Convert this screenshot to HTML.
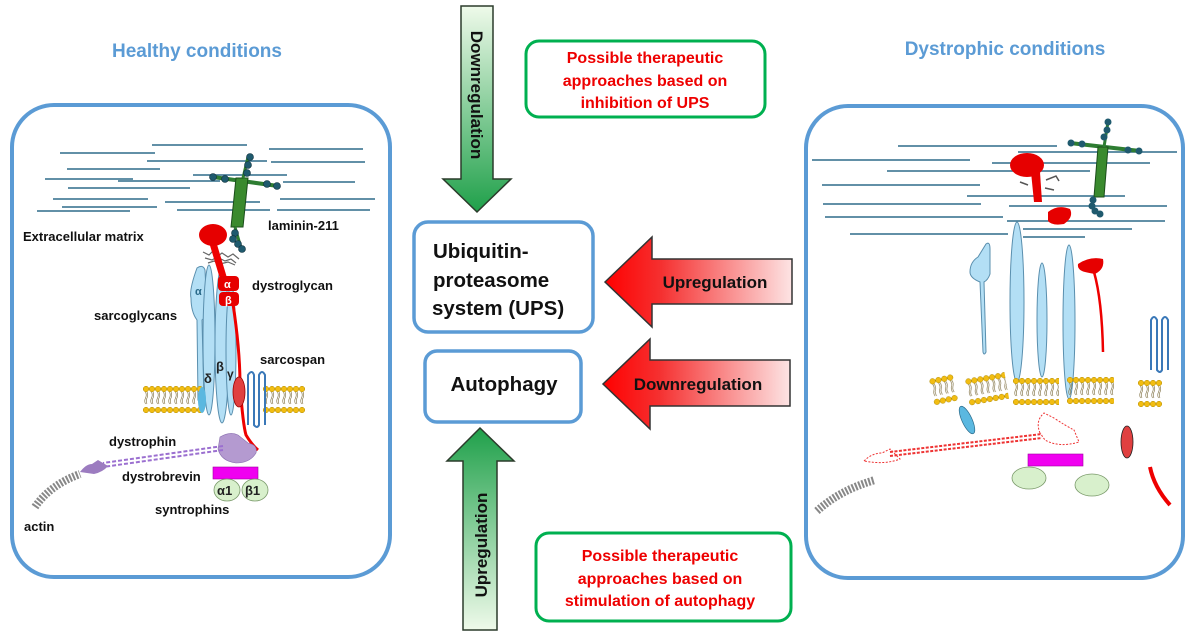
<!DOCTYPE html>
<html><head><meta charset="utf-8"><style>
html,body{margin:0;padding:0;background:#fff;}
svg{display:block;}
text{font-family:"Liberation Sans",Arial,sans-serif;font-weight:bold;}
</style></head><body>
<svg width="1198" height="639" viewBox="0 0 1198 639" xmlns="http://www.w3.org/2000/svg">
<defs>
<linearGradient id="gDown" x1="0" y1="0" x2="0" y2="1"><stop offset="0" stop-color="#effaea"/><stop offset="1" stop-color="#1fa04a"/></linearGradient>
<linearGradient id="gUp" x1="0" y1="1" x2="0" y2="0"><stop offset="0" stop-color="#effaea"/><stop offset="1" stop-color="#1fa04a"/></linearGradient>
<linearGradient id="rL" x1="0" y1="0" x2="1" y2="0"><stop offset="0" stop-color="#ff0000"/><stop offset="0.3" stop-color="#f53030"/><stop offset="1" stop-color="#fde4e4"/></linearGradient>
<pattern id="lip" width="6" height="27" patternUnits="userSpaceOnUse">
<circle cx="3" cy="3" r="2.8" fill="#f2bd12" stroke="#b08a00" stroke-width="0.5"/>
<circle cx="3" cy="24" r="2.8" fill="#f2bd12" stroke="#b08a00" stroke-width="0.5"/>
<path d="M2.5 6 q1.5 3 0 6 q-1.5 3 0 6 M4 6 q1.5 3 0 6 q-1.5 3 0 6" stroke="#7a6a3a" stroke-width="0.6" fill="none"/>
</pattern>
</defs>

<text x="197" y="57" font-size="19" fill="#5b9bd5" text-anchor="middle">Healthy conditions</text>
<text x="1005" y="55" font-size="19" fill="#5b9bd5" text-anchor="middle">Dystrophic conditions</text>

<rect x="12" y="105" width="378" height="472" rx="42" fill="#fff" stroke="#5b9bd5" stroke-width="4"/>
<rect x="806" y="106" width="377" height="472" rx="42" fill="#fff" stroke="#5b9bd5" stroke-width="4"/>

<g stroke="#2f6b8a" stroke-width="1.4">
<line x1="152" y1="145" x2="247" y2="145"/><line x1="60" y1="153" x2="155" y2="153"/><line x1="269" y1="149" x2="363" y2="149"/>
<line x1="147" y1="161" x2="267" y2="161"/><line x1="271" y1="162" x2="365" y2="162"/><line x1="67" y1="169" x2="160" y2="169"/>
<line x1="193" y1="175" x2="287" y2="175"/><line x1="45" y1="179" x2="133" y2="179"/><line x1="118" y1="181" x2="220" y2="181"/>
<line x1="283" y1="182" x2="355" y2="182"/><line x1="68" y1="188" x2="190" y2="188"/><line x1="53" y1="199" x2="148" y2="199"/>
<line x1="165" y1="202" x2="260" y2="202"/><line x1="280" y1="199" x2="375" y2="199"/><line x1="62" y1="207" x2="157" y2="207"/>
<line x1="37" y1="211" x2="130" y2="211"/><line x1="177" y1="210" x2="270" y2="210"/><line x1="277" y1="210" x2="370" y2="210"/>
</g>
<g>
<line x1="213" y1="177" x2="278" y2="186" stroke="#2e7d32" stroke-width="4"/>
<polygon points="236,178 248,178 243,227 231,227" fill="#3a8a2e" stroke="#1b4d1b" stroke-width="1"/>
<line x1="248" y1="157" x2="243" y2="178" stroke="#2e7d32" stroke-width="3"/>
<line x1="235" y1="227" x2="241" y2="248" stroke="#2e7d32" stroke-width="3"/>
<g fill="#1f5a6e" stroke="#0e2e3a" stroke-width="0.6">
<circle cx="250" cy="157" r="3.5"/><circle cx="248" cy="165" r="3.5"/><circle cx="247" cy="173" r="3.5"/>
<circle cx="213" cy="177" r="3.5"/><circle cx="225" cy="179" r="3.5"/><circle cx="267" cy="184" r="3.5"/><circle cx="277" cy="186" r="3.5"/>
<circle cx="235" cy="233" r="3.5"/><circle cx="233" cy="239" r="3.5"/><circle cx="238" cy="244" r="3.5"/><circle cx="242" cy="249" r="3.5"/>
</g></g>
<g stroke="#666" stroke-width="1.2" fill="none">
<path d="M203 252 l6 3 l4 -4 l5 5 l4 -3 l6 4 l5 -3 l6 5 M205 258 l7 2 l5 -3 l8 4 l6 -2 l5 4 M208 263 l6 -2 l6 3 l8 -2 l7 3"/>
</g>
<g fill="#b3dff5" stroke="#5a8fae" stroke-width="1">
<path d="M197 268 q6 -4 8 2 l2 40 q-2 8 -5 10 l2 80 q-3 6 -6 0 l-1 -80 q-6 -8 -6 -22 q-2 -8 6 -30z"/>
<ellipse cx="209" cy="340" rx="6" ry="75"/>
<ellipse cx="222" cy="345" rx="7" ry="78"/>
<ellipse cx="231" cy="350" rx="5" ry="65"/>
</g>
<text x="195" y="295" font-size="11" fill="#2a6a8a" font-family="Liberation Serif" font-weight="normal">α</text>
<text x="204" y="383" font-size="13" fill="#222" font-family="Liberation Serif" font-weight="normal">δ</text>
<text x="216" y="371" font-size="13" fill="#222" font-family="Liberation Serif" font-weight="normal">β</text>
<text x="227" y="378" font-size="12" fill="#222" font-family="Liberation Serif" font-weight="normal">γ</text>
<g transform="translate(143,386)"><rect width="60" height="27" fill="url(#lip)"/></g>
<g transform="translate(263,386)"><rect width="42" height="27" fill="url(#lip)"/></g>
<ellipse cx="202" cy="400" rx="4" ry="13" fill="#5bb8e0"/>
<path d="M248 425 v-50 q4 -6 6 0 v50 q3 4 5 0 v-50 q3 -6 6 0 v50" stroke="#3a78b8" stroke-width="2" fill="none"/>
<path d="M212 240 L224 280" stroke="#e00" stroke-width="7"/>
<ellipse cx="213" cy="235" rx="14" ry="11" fill="#e60000"/>
<rect x="218" y="276" width="21" height="15" rx="4" fill="#e60000"/>
<rect x="219" y="292" width="20" height="14" rx="4" fill="#e60000"/>
<text x="224" y="288" font-size="11" fill="#fff" font-family="Liberation Serif" font-weight="normal">α</text>
<text x="225" y="304" font-size="11" fill="#fff" font-family="Liberation Serif" font-weight="normal">β</text>
<path d="M233 304 Q240 350 240 385 Q243 425 246 435 Q252 445 258 450" stroke="#e00" stroke-width="3" fill="none"/>
<ellipse cx="239" cy="392" rx="6" ry="15" fill="#e04040" stroke="#900" stroke-width="0.8"/>
<path d="M220 437 q10 -6 18 -2 l10 8 q10 2 8 10 q-6 10 -20 10 q-15 -2 -18 -14z" fill="#b49ad0" stroke="#8a6fb0" stroke-width="0.6"/>
<line x1="223" y1="446" x2="103" y2="463" stroke="#9b6fd0" stroke-width="2" stroke-dasharray="4,2"/>
<line x1="223" y1="450" x2="103" y2="467" stroke="#9b6fd0" stroke-width="2" stroke-dasharray="4,2"/>
<path d="M80 472 q6 -8 12 -8 l6 -4 l10 6 q-5 6 -14 8 z" fill="#9c7cc0"/>
<path d="M35 507 Q50 485 80 474" stroke="#888" stroke-width="8" stroke-dasharray="2,1.5" fill="none"/>
<rect x="213" y="467" width="45" height="12" fill="#f000f0" stroke="#a000a0" stroke-width="0.6"/>
<ellipse cx="227" cy="490" rx="13" ry="11" fill="#d8f0cc" stroke="#7a9a6a" stroke-width="0.8"/>
<ellipse cx="255" cy="490" rx="13" ry="11" fill="#d8f0cc" stroke="#7a9a6a" stroke-width="0.8"/>
<text x="217" y="495" font-size="13" fill="#222" font-family="Liberation Serif" font-weight="normal">α1</text>
<text x="245" y="495" font-size="13" fill="#222" font-family="Liberation Serif" font-weight="normal">β1</text>
<g font-size="13" fill="#111">
<text x="23" y="241">Extracellular  matrix</text>
<text x="268" y="230">laminin-211</text>
<text x="252" y="290">dystroglycan</text>
<text x="94" y="320">sarcoglycans</text>
<text x="260" y="364">sarcospan</text>
<text x="109" y="446">dystrophin</text>
<text x="122" y="481">dystrobrevin</text>
<text x="155" y="514">syntrophins</text>
<text x="24" y="531">actin</text>
</g>

<g stroke="#2f6b8a" stroke-width="1.4">
<line x1="898" y1="146" x2="1057" y2="146"/><line x1="1018" y1="152" x2="1177" y2="152"/><line x1="812" y1="160" x2="970" y2="160"/>
<line x1="992" y1="163" x2="1150" y2="163"/><line x1="887" y1="171" x2="1090" y2="171"/><line x1="822" y1="185" x2="980" y2="185"/>
<line x1="967" y1="196" x2="1125" y2="196"/><line x1="823" y1="204" x2="981" y2="204"/><line x1="1009" y1="206" x2="1167" y2="206"/>
<line x1="825" y1="217" x2="1003" y2="217"/><line x1="1007" y1="221" x2="1165" y2="221"/><line x1="1023" y1="229" x2="1132" y2="229"/>
<line x1="850" y1="234" x2="1008" y2="234"/><line x1="1023" y1="237" x2="1085" y2="237"/>
</g>
<line x1="1070" y1="143" x2="1140" y2="151" stroke="#2e7d32" stroke-width="4"/>
<polygon points="1098,147 1108,147 1104,197 1094,197" fill="#3a8a2e" stroke="#1b4d1b"/>
<line x1="1108" y1="122" x2="1104" y2="147" stroke="#2e7d32" stroke-width="3"/>
<g fill="#1f5a6e"><circle cx="1108" cy="122" r="3.5"/><circle cx="1107" cy="130" r="3.5"/><circle cx="1104" cy="137" r="3.5"/>
<circle cx="1071" cy="143" r="3.5"/><circle cx="1082" cy="144" r="3.5"/><circle cx="1128" cy="150" r="3.5"/><circle cx="1139" cy="151" r="3.5"/>
<circle cx="1093" cy="200" r="3.5"/><circle cx="1092" cy="206" r="3.5"/><circle cx="1095" cy="211" r="3.5"/><circle cx="1100" cy="214" r="3.5"/></g>
<path d="M1031 172 L1034 202 L1042 202 L1040 172z" fill="#e60000"/>
<ellipse cx="1027" cy="165" rx="17" ry="12" fill="#e60000"/>
<path d="M1020 182 l8 3 M1046 180 l10 -4 l3 5 M1045 188 l9 2" stroke="#555" stroke-width="1.5" fill="none"/>
<path d="M1048 212 q10 -8 22 -3 q4 8 -6 15 q-12 2 -16 -3z" fill="#e60000"/>
<g fill="#b3dff5" stroke="#5a8fae" stroke-width="1">
<path d="M986 244 q4 -3 4 5 v25 q-2 6 -6 8 l2 70 q-2 4 -3 0 l-3 -70 q-10 -4 -10 -10 q0 -10 8 -15z"/>
<ellipse cx="1017" cy="302" rx="7" ry="80"/>
<ellipse cx="1042" cy="320" rx="5" ry="57"/>
<ellipse cx="1069" cy="322" rx="6" ry="77"/>
</g>
<path d="M1078 264 q12 -8 25 -5 q2 10 -8 15 q-6 -1 -10 -2 q-8 -2 -7 -8z" fill="#e60000"/>
<path d="M1094 272 Q1102 300 1103 352" stroke="#e00" stroke-width="2.5" fill="none"/>
<path d="M1151 370 v-50 q3 -6 6 0 v50 q3 4 5 0 v-50 q3 -6 6 0 v50" stroke="#3a78b8" stroke-width="2" fill="none"/>
<g transform="translate(929,379) rotate(-12)"><rect width="24" height="27" fill="url(#lip)"/></g>
<g transform="translate(965,379) rotate(-10)"><rect width="40" height="27" fill="url(#lip)"/></g>
<g transform="translate(1013,378)"><rect width="46" height="27" fill="url(#lip)"/></g>
<g transform="translate(1067,377)"><rect width="47" height="27" fill="url(#lip)"/></g>
<g transform="translate(1138,380)"><rect width="24" height="27" fill="url(#lip)"/></g>
<ellipse cx="967" cy="420" rx="5" ry="15" fill="#5bb8e0" stroke="#2a6a8a" stroke-width="0.7" transform="rotate(-25 967 420)"/>
<line x1="890" y1="452" x2="1042" y2="434" stroke="#e33" stroke-width="2" stroke-dasharray="3,1.5"/>
<line x1="890" y1="456" x2="1042" y2="438" stroke="#e33" stroke-width="2" stroke-dasharray="3,1.5"/>
<path d="M1040 433 q-5 -12 4 -20 l10 5 q12 8 20 12 l5 12 q-20 6 -34 -2z" fill="none" stroke="#e33" stroke-dasharray="2,1.5"/>
<path d="M864 461 q8 -8 18 -8 l8 -4 l10 10 q-15 6 -36 2z" fill="none" stroke="#e33" stroke-dasharray="2,1.5"/>
<ellipse cx="1127" cy="442" rx="6" ry="16" fill="#e04040" stroke="#222" stroke-width="0.8"/>
<path d="M1150 467 q4 20 20 38" stroke="#e00" stroke-width="4" fill="none"/>
<rect x="1028" y="454" width="55" height="12" fill="#f000f0" stroke="#a000a0" stroke-width="0.6"/>
<ellipse cx="1029" cy="478" rx="17" ry="11" fill="#d8f0cc" stroke="#7a9a6a" stroke-width="0.8"/>
<ellipse cx="1092" cy="485" rx="17" ry="11" fill="#d8f0cc" stroke="#7a9a6a" stroke-width="0.8"/>
<path d="M817 511 Q840 490 875 480" stroke="#888" stroke-width="8" stroke-dasharray="2,1.5" fill="none"/>

<polygon points="461,6 493,6 493,179 511,179 477,212 443,179 461,179" fill="url(#gDown)" stroke="#2b3b2b" stroke-width="1.5"/>
<text transform="translate(471,95) rotate(90)" font-size="17" fill="#111" text-anchor="middle">Downregulation</text>
<polygon points="480,428 514,461 497,461 497,630 463,630 463,461 447,461" fill="url(#gUp)" stroke="#2b3b2b" stroke-width="1.5"/>
<text transform="translate(487,545) rotate(-90)" font-size="17" fill="#111" text-anchor="middle">Upregulation</text>

<polygon points="605,282 652,237 652,259 792,259 792,304 652,304 652,327" fill="url(#rL)" stroke="#333" stroke-width="1.5"/>
<text x="715" y="288" font-size="17" fill="#111" text-anchor="middle">Upregulation</text>
<polygon points="603,384 650,339 650,360 790,360 790,406 650,406 650,429" fill="url(#rL)" stroke="#333" stroke-width="1.5"/>
<text x="698" y="390" font-size="17" fill="#111" text-anchor="middle">Downregulation</text>

<rect x="414" y="222" width="179" height="110" rx="14" fill="#fff" stroke="#5b9bd5" stroke-width="3.5"/>
<g font-size="20.5" fill="#111"><text x="433" y="258">Ubiquitin-</text><text x="433" y="287">proteasome</text><text x="432" y="315">system (UPS)</text></g>
<rect x="425" y="351" width="156" height="71" rx="12" fill="#fff" stroke="#5b9bd5" stroke-width="3.5"/>
<text x="504" y="391" font-size="20.5" fill="#111" text-anchor="middle">Autophagy</text>

<rect x="526" y="41" width="239" height="76" rx="13" fill="#fff" stroke="#00b050" stroke-width="3"/>
<g font-size="16" fill="#e00" text-anchor="middle"><text x="645" y="63">Possible therapeutic</text><text x="645" y="86">approaches based on</text><text x="645" y="108">inhibition of UPS</text></g>
<rect x="536" y="533" width="255" height="88" rx="13" fill="#fff" stroke="#00b050" stroke-width="3"/>
<g font-size="16" fill="#e00" text-anchor="middle"><text x="660" y="561">Possible therapeutic</text><text x="660" y="584">approaches based on</text><text x="660" y="606">stimulation of autophagy</text></g>
</svg>
</body></html>
